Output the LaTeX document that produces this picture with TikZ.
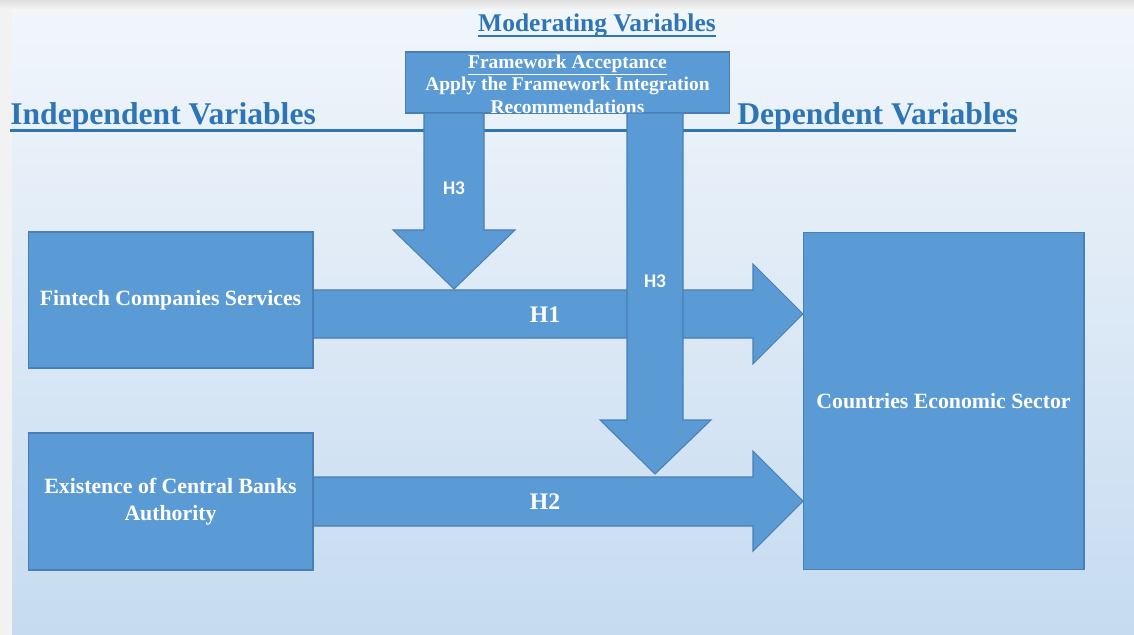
\documentclass[tikz,border=0pt]{standalone}
\usepackage{fontspec}
\setmainfont{Liberation Serif}
\newfontfamily\labelfont{Carlito}
\usetikzlibrary{positioning}
\definecolor{boxblue}{HTML}{5B9BD5}
\definecolor{edgeblue}{HTML}{4A7FB5}
\definecolor{titleblue}{HTML}{2E75B6}
\definecolor{bgtop}{HTML}{F1F6FB}
\definecolor{bgbottom}{HTML}{C6DBF0}
\begin{document}
\begin{tikzpicture}[x=0.02cm, y=-0.02cm,
    block/.style={fill=boxblue, draw=edgeblue, line width=0.6pt},
    boxtext/.style={text=white, align=center, font=\bfseries\fontsize{12.4}{15.3}\selectfont},
    titletext/.style={text=titleblue, inner sep=0pt, font=\bfseries\fontsize{18}{20}\selectfont},
    hlabel/.style={text=white, font=\bfseries\fontsize{13.5}{15}\selectfont},
    hsmall/.style={text=white, font=\labelfont\bfseries\fontsize{11}{13}\selectfont}]
    \useasboundingbox (0,0) rectangle (1134,635);
    % 1. background (window edge + soft blue gradient)
    \fill[black!5] (0,0) rectangle (1134,635);
    \shade[top color=black!12, bottom color=black!4] (0,0) rectangle (1134,10);
    \shade[top color=bgtop, bottom color=bgbottom] (12,10) rectangle (1134,635);

    % 2. headings and the long rule
    \draw[titleblue, line width=1.6pt] (10,130.5) -- (1016,130.5);
    \node[titletext, anchor=base west] (indep) at (10,125) {Independent Variables};
    \node[titletext, anchor=base west] (dep) at (737,125) {Dependent Variables};
    \node[titletext, anchor=base, font=\bfseries\fontsize{14.5}{16}\selectfont] (moder) at (597,32) {Moderating Variables};
    \draw[titleblue, line width=1pt] ([yshift=-2.2pt]moder.base west) -- ([yshift=-2.2pt]moder.base east);

    % 3. moderating box
    \node[block, minimum width=6.5cm, minimum height=1.22cm] (frame) at (567.5,82.5) {};
    \node[boxtext, font=\bfseries\fontsize{11.1}{12.8}\selectfont] (frametext) at (567.5,84)
      {\underline{Framework Acceptance}\\Apply the Framework Integration\\Recommendations};

    % 4. arrows H3 (left), H1, H2
    \filldraw[block] (424,113) -- (484,113) -- (484,230) -- (515,230) -- (454,289)
      -- (393,230) -- (424,230) -- cycle;
    \node[hsmall] (hthreea) at (454,188) {H3};
    \filldraw[block] (313,290) -- (753,290) -- (753,264) -- (803,314) -- (753,364)
      -- (753,338) -- (313,338) -- cycle;
    \node[hlabel] (hone) at (545,315) {H1};
    \filldraw[block] (313,477) -- (753,477) -- (753,451) -- (803,501) -- (753,551)
      -- (753,526) -- (313,526) -- cycle;
    \node[hlabel] (htwo) at (545,502) {H2};

    % 5. long H3 arrow over H1
    \filldraw[block] (627,113) -- (683,113) -- (683,420) -- (711,420) -- (655,474)
      -- (600,420) -- (627,420) -- cycle;
    \node[hsmall] (hthreeb) at (655,281) {H3};

    % 6. variable boxes
    \node[block, boxtext, minimum width=5.7cm, minimum height=2.72cm] (fintech) at (170.5,300)
      {Fintech Companies Services};
    \node[block, boxtext, minimum width=5.7cm, minimum height=2.74cm] (central) at (170.5,501.5)
      {Existence of Central Banks\\Authority};
    \node[block, boxtext, minimum width=5.62cm, minimum height=6.76cm] (economy) at (943.5,401)
      {Countries Economic Sector};
\end{tikzpicture}
\end{document}
